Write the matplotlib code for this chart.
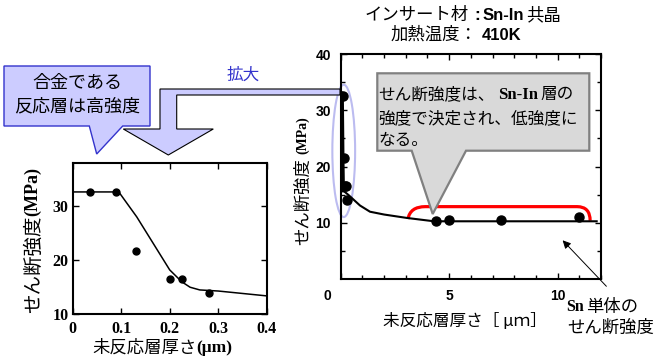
import matplotlib
matplotlib.use('Agg')
import matplotlib.pyplot as plt
import matplotlib.transforms as mtransforms
from matplotlib.patches import Polygon, Ellipse, PathPatch
from matplotlib.path import Path

plt.rcParams['font.family'] = ['Noto Sans CJK JP', 'DejaVu Sans']

# measured points (unreacted layer thickness um, shear strength MPa)
thick_small = [0.035, 0.09, 0.13, 0.2, 0.225, 0.28]
shear_small = [32.6, 32.6, 21.6, 16.5, 16.6, 14.0]
thick_large = [4.4, 5.0, 7.4, 11.0]
shear_large = [10.3, 10.5, 10.5, 11.1]

# trend line, zoomed view
fit_x_zoom = [0.0, 0.095, 0.132, 0.166, 0.2, 0.225, 0.242, 0.262, 0.3, 0.4]
fit_y_zoom = [32.6, 32.6, 28.0, 23.1, 18.2, 16.0, 15.0, 14.5, 14.3, 13.4]

# trend line, full view
steep_x = [0.05, 0.08, 0.1]
steep_y = [32.6, 21.0, 15.8]
fit_x_full = [0.1, 0.35, 0.89, 1.35, 2.0, 3.04, 4.3, 11.8]
fit_y_full = [15.8, 15.0, 13.1, 12.0, 11.5, 10.9, 10.3, 10.3]

W, H = 660, 362
fig = plt.figure(figsize=(W / 100, H / 100), dpi=100)

def px_axes(l, t, r, b):
    return fig.add_axes([l / W, 1 - b / H, (r - l) / W, (b - t) / H])

SERIF_B = dict(family='Liberation Serif', weight='bold')
SANS_B = dict(family='Liberation Sans', weight='bold')

# ---- left (zoomed) plot
ax1 = px_axes(72.7, 162.7, 266.7, 314.3)
ax1.plot(fit_x_zoom, fit_y_zoom, '-', color='black', lw=1.1)
ax1.plot(thick_small, shear_small, 'o', color='black', ms=5)
ax1.set_xlim(0, 0.4)
ax1.set_ylim(10, 38)
ax1.set_xticks([0, 0.1, 0.2, 0.3, 0.4])
ax1.set_xticklabels(['0', '0.1', '0.2', '0.3', '0.4'])
ax1.set_yticks([10, 20, 30])
ax1.tick_params(direction='in', top=True, right=True, length=4, width=1, pad=5)
ax1.tick_params(axis='y', pad=3)
for lab in ax1.get_xticklabels() + ax1.get_yticklabels():
    lab.set_family('Liberation Serif')
    lab.set_weight('bold')
    lab.set_size(11.5)
for s in ax1.spines.values():
    s.set_linewidth(1.5)

# ---- right (full) plot
ax2 = px_axes(340.7, 54, 601, 279.3)
ax2.plot(steep_x, steep_y, '-', color='black', lw=3)
ax2.plot(fit_x_full, fit_y_full, '-', color='black', lw=1.5)
ax2.plot(thick_small + thick_large, shear_small + shear_large, 'o',
         color='black', ms=6.5)
ax2.set_xlim(0, 12)
ax2.set_ylim(0, 40)
ax2.set_xticks([0, 5, 10])
ax2.set_xticks(range(0, 13), minor=True)
ax2.set_yticks([10, 20, 30, 40])
ax2.set_yticks([5, 15, 25, 35], minor=True)
ax2.tick_params(which='both', direction='in', top=True, right=True, width=1, pad=7)
ax2.tick_params(which='major', length=4)
ax2.tick_params(which='minor', length=3)
for lab in ax2.get_xticklabels() + ax2.get_yticklabels():
    lab.set_family('Liberation Sans')
    lab.set_weight('bold')
    lab.set_size(10)
t0 = ax2.xaxis.get_major_ticks()[0].label1
t0.set_transform(t0.get_transform() + mtransforms.ScaledTranslation(-0.13, 0, fig.dpi_scale_trans))
for s in ax2.spines.values():
    s.set_linewidth(1.5)

# ellipse around the thin-layer points and red bracket on the thick ones
ax2.add_patch(Ellipse((0.14, 22.8), 1.05, 23.5, fill=False, ec='#bcbcf0', lw=1.5, clip_on=False))
br = Path([(3.1, 10.7), (3.2, 12.9), (3.9, 12.9), (10.9, 12.9), (11.5, 12.9), (11.5, 10.4)],
          [Path.MOVETO, Path.CURVE3, Path.CURVE3, Path.LINETO, Path.CURVE3, Path.CURVE3])
ax2.add_patch(PathPatch(br, fill=False, ec='red', lw=2.3))

# ---- overlay in pixel coordinates for callouts
ov = fig.add_axes([0, 0, 1, 1], zorder=5)
ov.set_xlim(0, W)
ov.set_ylim(H, 0)
ov.axis('off')
ov.patch.set_visible(False)

# gray callout
ov.add_patch(Polygon([(377.3, 73.3), (589.3, 73.3), (589.3, 150.7), (466, 150.7), (432.7, 214),
                      (411.7, 150.7), (377.3, 150.7)], closed=True, fc='#d9d9d9', ec='#808080', lw=1.6))
ov.text(378, 95, 'せん断強度は、', fontsize=12, va='center', ha='left')
ov.text(498, 95, 'Sn-In', fontsize=12, va='center', ha='left', **SERIF_B)
ov.text(540, 95, '層の', fontsize=12, va='center', ha='left')
ov.text(378, 118.3, '強度で決定され、低強度に', fontsize=12, va='center', ha='left')
ov.text(378, 140, 'なる。', fontsize=12, va='center', ha='left')

# blue callout
ov.add_patch(Polygon([(4, 66), (150, 66), (150, 126), (122.7, 126), (96.7, 154), (89.3, 126), (4, 126)],
                     closed=True, fc='#ccccff', ec='#3333cc', lw=1))
ov.text(77, 83.3, '合金である', fontsize=13, ha='center', va='center')
ov.text(77, 106.7, '反応層は高強度', fontsize=13, ha='center', va='center')

# bent "zoom" arrow
ov.add_patch(Polygon([(340, 89), (160, 89), (160, 129), (123.3, 129), (168.3, 155), (213.3, 129),
                      (176.7, 129), (176.7, 95), (340, 95)], closed=True, fc='#ccccff', ec='black', lw=0.8))
ov.text(243, 75, '拡大', fontsize=12, color='#3333cc', ha='center', va='center')

# titles
ov.text(365, 15, 'インサート材', fontsize=12.5, ha='left', va='center')
ov.text(477, 15, ':', fontsize=12.5, ha='center', va='center', **SANS_B)
ov.text(483, 15, 'Sn-In', fontsize=12, ha='left', va='center', **SANS_B)
ov.text(526, 15, '共晶', fontsize=12.5, ha='left', va='center')
ov.text(391, 35, '加熱温度：', fontsize=12.5, ha='left', va='center')
ov.text(482, 35, '410K', fontsize=12, ha='left', va='center', **SANS_B)

# Sn reference annotation
ov.annotate('', xy=(560.7, 238.3), xytext=(608.3, 288.3),
            arrowprops=dict(arrowstyle='-|>', color='black', lw=0.7, mutation_scale=12))
ov.text(566, 306.7, 'Sn', fontsize=11.5, ha='left', va='center', **SERIF_B)
ov.text(586, 306.7, '単体の', fontsize=12.5, ha='left', va='center')
ov.text(567, 328, 'せん断強度', fontsize=12.5, ha='left', va='center')

# axis labels
ov.text(33, 264.5, 'せん断強度', fontsize=14, rotation=90, ha='center', va='center')
ov.text(33, 191.5, '(MPa)', fontsize=13, rotation=90, ha='center', va='center', **SERIF_B)
ov.text(92, 348, '未反応層厚さ', fontsize=12.5, ha='left', va='center')
ov.text(196, 348, '(μm)', fontsize=12.5, ha='left', va='center', **SERIF_B)
ov.text(303, 201.5, 'せん断強度', fontsize=12.5, rotation=90, ha='center', va='center')
ov.text(303, 135, '(MPa)', fontsize=10, rotation=90, ha='center', va='center', **SERIF_B)
ov.text(465, 321.7, '未反応層厚さ［ μｍ］', fontsize=12, ha='center', va='center')

fig.savefig('out.png', dpi=100)
